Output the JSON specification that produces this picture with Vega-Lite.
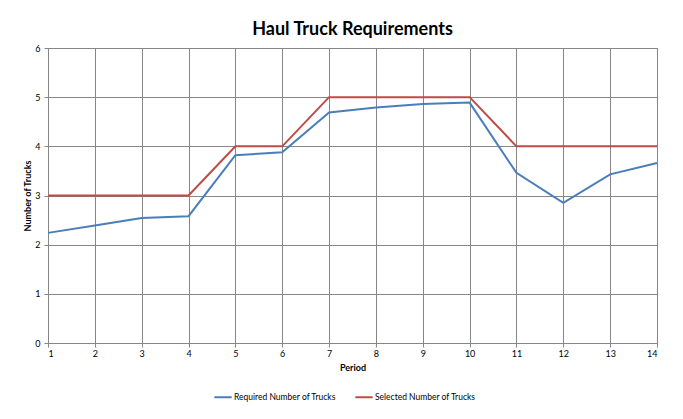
{
  "$schema": "https://vega.github.io/schema/vega-lite/v6.json",
  "autosize": "none",
  "width": 609,
  "height": 295,
  "padding": {"left": 48, "top": 48, "right": 26, "bottom": 76},
  "background": "white",
  "title": {
    "text": "Haul Truck Requirements",
    "font": "Lato",
    "fontSize": 18,
    "fontWeight": "bold",
    "color": "#000000",
    "anchor": "middle",
    "offset": 5
  },
  "data": {
    "values": [
      {"Period": 1, "Series": "Required Number of Trucks", "Trucks": 2.24},
      {"Period": 2, "Series": "Required Number of Trucks", "Trucks": 2.39},
      {"Period": 3, "Series": "Required Number of Trucks", "Trucks": 2.54},
      {"Period": 4, "Series": "Required Number of Trucks", "Trucks": 2.58},
      {"Period": 5, "Series": "Required Number of Trucks", "Trucks": 3.82},
      {"Period": 6, "Series": "Required Number of Trucks", "Trucks": 3.88},
      {"Period": 7, "Series": "Required Number of Trucks", "Trucks": 4.69},
      {"Period": 8, "Series": "Required Number of Trucks", "Trucks": 4.79},
      {"Period": 9, "Series": "Required Number of Trucks", "Trucks": 4.86},
      {"Period": 10, "Series": "Required Number of Trucks", "Trucks": 4.89},
      {"Period": 11, "Series": "Required Number of Trucks", "Trucks": 3.46},
      {"Period": 12, "Series": "Required Number of Trucks", "Trucks": 2.85},
      {"Period": 13, "Series": "Required Number of Trucks", "Trucks": 3.43},
      {"Period": 14, "Series": "Required Number of Trucks", "Trucks": 3.66},
      {"Period": 1, "Series": "Selected Number of Trucks", "Trucks": 3},
      {"Period": 2, "Series": "Selected Number of Trucks", "Trucks": 3},
      {"Period": 3, "Series": "Selected Number of Trucks", "Trucks": 3},
      {"Period": 4, "Series": "Selected Number of Trucks", "Trucks": 3},
      {"Period": 5, "Series": "Selected Number of Trucks", "Trucks": 4},
      {"Period": 6, "Series": "Selected Number of Trucks", "Trucks": 4},
      {"Period": 7, "Series": "Selected Number of Trucks", "Trucks": 5},
      {"Period": 8, "Series": "Selected Number of Trucks", "Trucks": 5},
      {"Period": 9, "Series": "Selected Number of Trucks", "Trucks": 5},
      {"Period": 10, "Series": "Selected Number of Trucks", "Trucks": 5},
      {"Period": 11, "Series": "Selected Number of Trucks", "Trucks": 4},
      {"Period": 12, "Series": "Selected Number of Trucks", "Trucks": 4},
      {"Period": 13, "Series": "Selected Number of Trucks", "Trucks": 4},
      {"Period": 14, "Series": "Selected Number of Trucks", "Trucks": 4}
    ]
  },
  "mark": {"type": "line", "strokeWidth": 2},
  "encoding": {
    "x": {
      "field": "Period",
      "type": "quantitative",
      "scale": {"domain": [1, 14], "nice": false, "zero": false},
      "axis": {
        "title": "Period",
        "values": [1,2,3,4,5,6,7,8,9,10,11,12,13,14],
        "format": "d",
        "labelFont": "Lato",
        "labelFontSize": 9,
        "labelColor": "#000000",
        "titleFont": "Lato",
        "titleFontSize": 9,
        "titleFontWeight": "bold",
        "titleColor": "#000000",
        "titlePadding": 5,
        "domainColor": "#868686",
        "tickColor": "#868686",
        "tickSize": 4,
        "gridColor": "#868686",
        "gridOpacity": 1,
        "labelPadding": 2
      }
    },
    "y": {
      "field": "Trucks",
      "type": "quantitative",
      "scale": {"domain": [0, 6], "nice": false},
      "axis": {
        "title": "Number of Trucks",
        "values": [0,1,2,3,4,5,6],
        "labelFont": "Lato",
        "labelFontSize": 9,
        "labelColor": "#000000",
        "titleFont": "Lato",
        "titleFontSize": 9,
        "titleFontWeight": "bold",
        "titleColor": "#000000",
        "titlePadding": 2,
        "domainColor": "#868686",
        "tickColor": "#868686",
        "tickSize": 4,
        "gridColor": "#868686",
        "gridOpacity": 1,
        "labelPadding": 4
      }
    },
    "color": {
      "field": "Series",
      "type": "nominal",
      "scale": {
        "domain": ["Required Number of Trucks", "Selected Number of Trucks"],
        "range": ["#4A7EBB", "#BE4B48"]
      },
      "legend": {
        "title": null,
        "orient": "none",
        "legendX": 165,
        "legendY": 339,
        "direction": "horizontal",
        "symbolType": "stroke",
        "symbolStrokeWidth": 2,
        "symbolSize": 300,
        "labelFont": "Lato",
        "labelFontSize": 8.5,
        "labelColor": "#000000",
        "labelOffset": 1,
        "columnPadding": 15
      }
    }
  },
  "config": {
    "view": {"stroke": "#868686"}
  }
}
